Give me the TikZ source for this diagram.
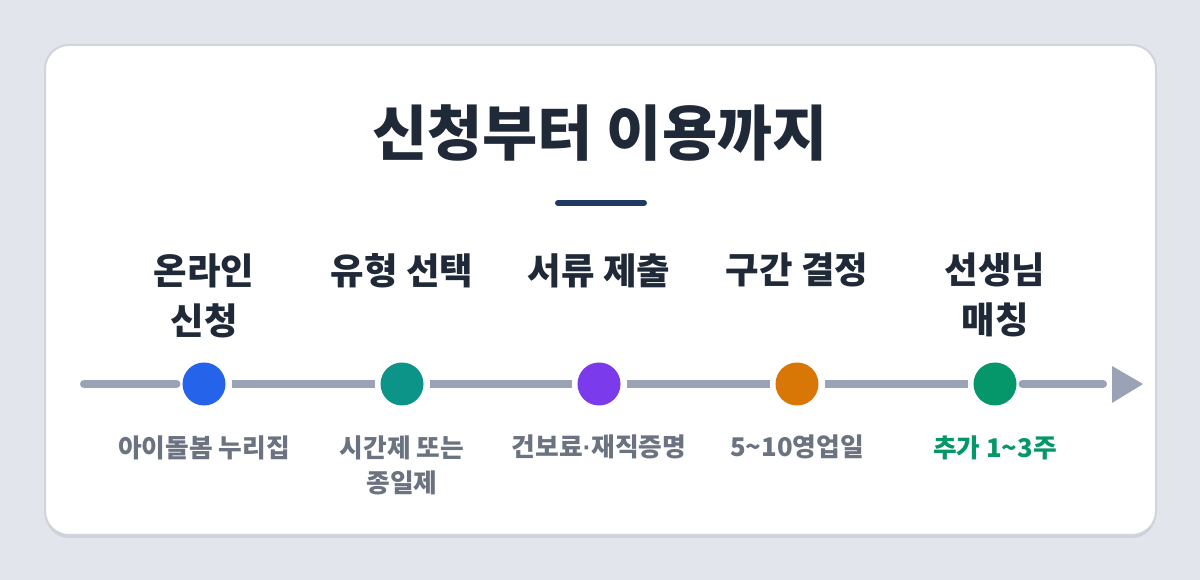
\documentclass[tikz,border=0pt]{standalone}
\usepackage{fontspec}
\setmainfont{Noto Sans CJK KR}
\newfontfamily\latinfont{Liberation Sans}
\usetikzlibrary{positioning}
\definecolor{pagebg}{HTML}{E2E5EC}
\definecolor{cardline}{HTML}{D1D5DB}
\definecolor{cardshadow}{HTML}{CDD2DC}
\definecolor{inkdark}{HTML}{1F2937}
\definecolor{navy}{HTML}{1E3A5F}
\definecolor{railgray}{HTML}{9AA3B5}
\definecolor{subgray}{HTML}{6B7280}
\definecolor{dotblue}{HTML}{2563EB}
\definecolor{dotteal}{HTML}{0D9488}
\definecolor{dotpurple}{HTML}{7C3AED}
\definecolor{dotorange}{HTML}{D97706}
\definecolor{dotgreen}{HTML}{059669}
\tikzset{
dot/.style={shape=circle, inner sep=0pt, minimum size=32.25pt, outer sep=4.5pt, fill=#1},
rail/.style={draw=railgray, line width=6pt},
steplabel/.style={font=\fontsize{27.3}{37.5}\selectfont\bfseries, text=inkdark, align=center, anchor=north, inner sep=0pt},
sublabel/.style={font=\fontsize{19.3}{26.25}\selectfont\bfseries, text=subgray, align=center, anchor=north, inner sep=0pt}}

\begin{document}
\begin{tikzpicture}[x=0.75pt, y=-0.75pt]
    \useasboundingbox (0,0) rectangle (1200,580);
    \fill[pagebg] (0,0) rectangle (1200,580);
    \fill[cardshadow, rounded corners=18pt] (45,47) rectangle (1156,538);
    \draw[cardline, fill=white, line width=1.5pt, rounded corners=18pt] (45,45) rectangle (1156,535);

                \node[font=\fontsize{45}{54}\selectfont\bfseries, text=inkdark] (title) at (600,133) {신청부터 이용까지};
                \coordinate (barL) at (558,203);
                \coordinate (barR) at (644,203);
                \draw[navy, line width=4.5pt, line cap=round] (barL) -- (barR);

                \node[dot=dotblue] (d1) at (204,384) {};
                \node[dot=dotteal] (d2) at (402,384) {};
                \node[dot=dotpurple] (d3) at (599,384) {};
                \node[dot=dotorange] (d4) at (797,384) {};
                \node[dot=dotgreen] (d5) at (995,384) {};
                \coordinate (railstart) at (84,384);
                \coordinate (railend) at (1103,384);

                \draw[rail, line cap=round] (railstart) -- (d1);
                \draw[rail] (d1) -- (d2);
                \draw[rail] (d2) -- (d3);
                \draw[rail] (d3) -- (d4);
                \draw[rail] (d4) -- (d5);
                \draw[rail, line cap=round] (d5) -- (railend);
                \fill[railgray] (1112,366) -- (1143,384) -- (1112,403) -- cycle;

                \node[steplabel] (s1) at (204,253) {온라인\\신청};
                \node[steplabel] (s2) at (402,253) {유형 선택};
                \node[steplabel] (s3) at (599,253) {서류 제출};
                \node[steplabel] (s4) at (797,253) {구간 결정};
                \node[steplabel] (s5) at (995,253) {선생님\\매칭};

                \node[sublabel] (t1) at (204,435) {아이돌봄 누리집};
                \node[sublabel] (t2) at (402,435) {시간제 또는\\종일제};
                \node[sublabel] (t3) at (599,435) {건보료{\latinfont\bfseries ·}재직증명};
                \node[sublabel] (t4) at (797,435) {5\textasciitilde10영업일};
                \node[sublabel, text=dotgreen] (t5) at (995,435) {추가 1\textasciitilde3주};

            \end{tikzpicture}
\end{document}
